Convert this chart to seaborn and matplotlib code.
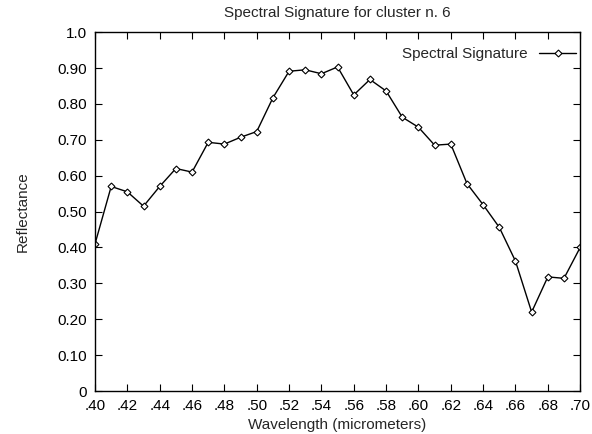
import numpy as np
import pandas as pd
import seaborn as sns
import matplotlib.pyplot as plt

# Datos
wavelength = [0.40, 0.41, 0.42, 0.43, 0.44, 0.45, 0.46, 0.47, 0.48, 0.49, 0.50,
              0.51, 0.52, 0.53, 0.54, 0.55, 0.56, 0.57, 0.58, 0.59, 0.60,
              0.61, 0.62, 0.63, 0.64, 0.65, 0.66, 0.67, 0.68, 0.69, 0.70]
reflectance = [0.410, 0.570, 0.555, 0.515, 0.570, 0.620, 0.610, 0.693, 0.688, 0.707, 0.723,
               0.817, 0.891, 0.895, 0.884, 0.903, 0.825, 0.868, 0.836, 0.763, 0.735,
               0.685, 0.688, 0.578, 0.519, 0.456, 0.362, 0.220, 0.318, 0.314, 0.400]
x_ticks = [0.40, 0.42, 0.44, 0.46, 0.48, 0.50, 0.52, 0.54, 0.56, 0.58, 0.60, 0.62, 0.64, 0.66, 0.68, 0.70]
x_labels = ['.40', '.42', '.44', '.46', '.48', '.50', '.52', '.54', '.56', '.58', '.60', '.62', '.64', '.66', '.68', '.70']
y_ticks = [0, 0.1, 0.2, 0.3, 0.4, 0.5, 0.6, 0.7, 0.8, 0.9, 1.0]
y_labels = ['0', '0.10', '0.20', '0.30', '0.40', '0.50', '0.60', '0.70', '0.80', '0.90', '1.0']

df = pd.DataFrame({'Wavelength': wavelength, 'Reflectance': reflectance})

sns.set_style("ticks")
plt.rcParams['font.family'] = ['Liberation Sans', 'DejaVu Sans']

fig = plt.figure(figsize=(5.92, 4.34), dpi=100)
ax = fig.add_axes([0.1605, 0.099, 0.8195, 0.827])

sns.lineplot(data=df, x='Wavelength', y='Reflectance', ax=ax, color='black',
             linewidth=1.0, marker='D', markersize=3.5, markerfacecolor='white',
             markeredgecolor='black', markeredgewidth=0.8, label='Spectral Signature')

ax.set_xlim(0.40, 0.70)
ax.set_ylim(0, 1.0)
ax.set_xticks(x_ticks)
ax.set_xticklabels(x_labels)
ax.set_yticks(y_ticks)
ax.set_yticklabels(y_labels)
ax.tick_params(direction='in', top=True, right=True, length=5, width=0.8,
               labelsize=11, colors='black')
ax.tick_params(axis='x', pad=6)
ax.tick_params(axis='y', pad=6)
for s in ax.spines.values():
    s.set_linewidth(1.0)
    s.set_color('black')

ax.set_xlabel("Wavelength (micrometers)", fontsize=11, labelpad=3)
ax.set_ylabel("Reflectance", fontsize=11, labelpad=20)
ax.set_title("Spectral Signature for cluster n. 6", fontsize=11, pad=11)

ax.legend(loc='upper right', bbox_to_anchor=(1.023, 1.0), frameon=False,
          markerfirst=False, fontsize=11, handlelength=2.4, borderaxespad=0.6)

fig.savefig("out.png", dpi=100)
